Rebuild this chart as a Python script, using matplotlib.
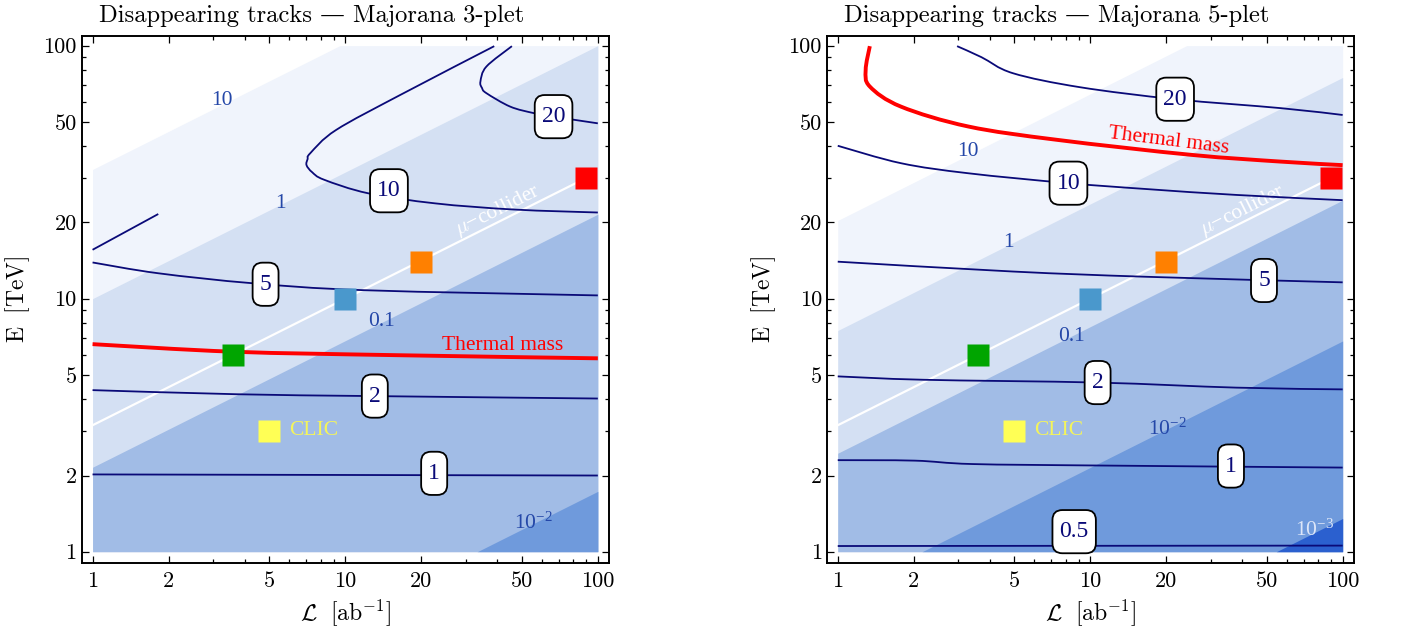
import numpy as np
import matplotlib
matplotlib.use('Agg')
import matplotlib.pyplot as plt
from matplotlib.ticker import NullFormatter
from matplotlib.path import Path
from matplotlib.patches import PathPatch, BoxStyle

plt.rcParams['mathtext.fontset'] = 'cm'

# ---------------- data ----------------
major_ticks = [1, 2, 5, 10, 20, 50, 100]
major_labels = ['1', '2', '5', '10', '20', '50', '100']
minor_ticks = [3, 4, 6, 7, 8, 9, 30, 40, 60, 70, 80, 90]

titles = ['Disappearing tracks \u2014 Majorana 3-plet',
          'Disappearing tracks \u2014 Majorana 5-plet']

# shaded bands: boundaries given as constant E^2/L (TeV^2 ab)
band_ratio_3 = [1050, 100, 4.65, 0.03]
band_ratio_5 = [415, 56, 6.0, 0.463, 0.0183]
band_colors = ['#F0F4FC', '#D4E0F3', '#A1BCE6', '#6F9ADC', '#2B60CF']
band_text_3 = ['10', '1', '0.1', r'$\mathregular{10^{-2}}$']
band_text_L_3 = [3.25, 5.56, 13.9, 55.8]
band_text_E_3 = [60.7, 23.8, 8.11, 1.30]
band_text_5 = ['10', '1', '0.1', r'$\mathregular{10^{-2}}$', r'$\mathregular{10^{-3}}$']
band_text_L_5 = [3.29, 4.74, 8.4, 20.2, 77.3]
band_text_E_5 = [38.1, 16.6, 7.08, 3.05, 1.22]
band_text_color_5 = ['#2447A8', '#2447A8', '#2447A8', '#2447A8', '#DDE6F8']

# contour curves, 3-plet
c3_1_L = [1, 10, 100];                 c3_1_E = [2.02, 2.01, 2.0]
c3_2_L = [1, 3.74, 13.1, 100];         c3_2_E = [4.35, 4.19, 4.12, 4.03]
c3_5_L = [1, 1.82, 4.32, 11.9, 100];   c3_5_E = [13.9, 12.6, 11.5, 10.8, 10.3]
c3_10_L = [38.9, 16.7, 9.2, 7.28, 7.1, 7.03, 7.4, 8.26, 12.3, 22.7, 46.6, 100]
c3_10_E = [99.5, 64.2, 46.4, 37.6, 35.6, 33.7, 31.6, 29.5, 26.1, 23.8, 22.5, 21.9]
c3_10b_L = [1.0, 1.82];                c3_10b_E = [15.6, 21.6]
c3_20_L = [45.7, 36.2, 34.3, 34.8, 36.2, 45, 55.8, 66.8, 100]
c3_20_E = [99.5, 82.6, 72.1, 68.0, 64.9, 57.4, 54.1, 52.4, 49.3]
thermal3_L = [1, 3.6, 15.8, 100];      thermal3_E = [6.61, 6.17, 5.98, 5.81]
box3_text = ['20', '10', '5', '2', '1']
box3_L = [66.8, 14.9, 4.84, 13.1, 22.5]
box3_E = [52.4, 26.7, 11.4, 4.12, 2.04]

# contour curves, 5-plet
c5_05_L = [1, 100];                        c5_05_E = [1.053, 1.057]
c5_1_L = [1, 2.02, 3.42, 11.2, 100];       c5_1_E = [2.30, 2.29, 2.22, 2.19, 2.15]
c5_2_L = [1, 2.19, 10.7, 37.9, 100];       c5_2_E = [4.93, 4.78, 4.66, 4.45, 4.38]
c5_5_L = [1, 4.94, 16.8, 100];             c5_5_E = [14.0, 12.8, 12.2, 11.6]
c5_10_L = [1, 1.78, 3.29, 8.2, 16.8, 37.9, 100]
c5_10_E = [40.2, 34.3, 31.3, 28.6, 27.1, 25.7, 24.5]
c5_20_L = [2.97, 3.71, 4.94, 9.1, 21.7, 57, 100]
c5_20_E = [99.5, 90, 77.8, 68.5, 61.4, 56.6, 53.2]
thermal5_L = [1.34, 1.29, 1.34, 1.78, 3.29, 7.43, 25.2, 57, 100]
thermal5_E = [99.5, 80.1, 68.9, 57.4, 47.9, 42.4, 37.0, 34.8, 33.7]
box5_text = ['20', '10', '5', '2', '1', '0.5']
box5_L = [21.7, 8.2, 48.8, 10.7, 36.1, 8.64]
box5_E = [61.4, 28.6, 11.8, 4.66, 2.18, 1.2]

# muon-collider line and benchmark points
mu_L = [1, 90]
mu_E = [3.16, 30]
mark_L = [90, 20, 10, 3.6]
mark_E = [30, 14, 10, 6]
mark_colors = ['#FF0000', '#FF8000', '#4A98CC', '#00A500']
clic_L = [5]
clic_E = [3]

# ---------------- figure ----------------
fig = plt.figure(figsize=(14.01, 6.35), dpi=100)
W, H = 1401.0, 635.0
ax3 = fig.add_axes([82.2 / W, 1 - 562.7 / H, 527 / W, 526.7 / H])
ax5 = fig.add_axes([827.4 / W, 1 - 562.7 / H, 526.6 / W, 526.7 / H])

NAVY = '#0A0A78'
SERIF = 'Liberation Serif'


def setup(ax, title):
    ax.set_xscale('log')
    ax.set_yscale('log')
    ax.set_xlim(10 ** -0.041, 10 ** 2.045)
    ax.set_ylim(10 ** -0.0435, 10 ** 2.038)
    ax.set_xticks(major_ticks)
    ax.set_xticklabels(major_labels, fontfamily='cmr10', fontsize=16)
    ax.set_yticks(major_ticks)
    ax.set_yticklabels(major_labels, fontfamily='cmr10', fontsize=16)
    ax.set_xticks(minor_ticks, minor=True)
    ax.set_yticks(minor_ticks, minor=True)
    ax.xaxis.set_minor_formatter(NullFormatter())
    ax.yaxis.set_minor_formatter(NullFormatter())
    ax.tick_params(which='both', direction='in', top=True, right=True, width=0.9, color='black')
    ax.tick_params(which='major', length=5, pad=4)
    ax.tick_params(axis='x', which='major', pad=6)
    ax.tick_params(which='minor', length=3)
    for s in ax.spines.values():
        s.set_linewidth(1.4)
    ax.set_title(title, x=0.4355, pad=10, fontsize=17.7, family=['cmr10', 'DejaVu Serif'])
    ax.set_xlabel(r'$\mathcal{L}\ \ [\mathrm{ab}^{-1}]$', fontsize=17)
    ax.set_ylabel(r'$\mathrm{E\ \ [TeV]}$', fontsize=17)
    ax.xaxis.set_label_coords(0.5, -0.0955)
    ax.yaxis.set_label_coords(-0.122, 0.5)
    ax.xaxis.label.set_va('center')
    ax.yaxis.label.set_va('center')
    ax.yaxis.label.set_ha('center')


def bands(ax, ratios):
    Lg = np.logspace(0, 2, 800)
    for r, col in zip(ratios, band_colors):
        top = np.clip(np.sqrt(r * Lg), 1, 100)
        ax.fill_between(Lg, 1, top, color=col, lw=0, zorder=1)


def curve(ax, L, E, color, lw, z=5):
    """Smooth curve through the read points (Catmull-Rom handles in log-log space)."""
    p = np.column_stack([np.log10(L), np.log10(E)])
    n = len(p)
    verts = [p[0]]
    codes = [Path.MOVETO]
    for i in range(n - 1):
        p0 = p[i - 1] if i > 0 else p[i]
        p1, p2 = p[i], p[i + 1]
        p3 = p[i + 2] if i + 2 < n else p[i + 1]
        verts += [p1 + (p2 - p0) / 6.0, p2 - (p3 - p1) / 6.0, p2]
        codes += [Path.CURVE4] * 3
    verts = 10 ** np.array(verts)
    ax.add_patch(PathPatch(Path(verts, codes), fill=False, ec=color, lw=lw, zorder=z,
                           capstyle='butt', joinstyle='round'))


_round = BoxStyle.Round(pad=0.3, rounding_size=0.42)


def tall_round(x0, y0, width, height, mutation_size):
    extra = 0.17 * mutation_size
    return _round(x0, y0 - extra, width, height + 2 * extra, mutation_size)


def box(ax, L, E, txt):
    t = ax.text(L, E, txt, ha='center', va='center', fontsize=17, family=SERIF, color=NAVY, zorder=6,
                bbox=dict(fc='white', ec='black', lw=1.3))
    t.get_bbox_patch().set_boxstyle(tall_round)


def markers(ax):
    ax.plot(mu_L, mu_E, color='white', lw=1.6, zorder=3)
    for L, E, c in zip(mark_L, mark_E, mark_colors):
        ax.plot([L], [E], 's', color=c, ms=16.5, mec='none', zorder=8)
    ax.plot(clic_L, clic_E, 's', color='#FFFF55', ms=16.5, mec='none', zorder=8)
    ax.text(6.0, 3.0, 'CLIC', color='#F4F45A', fontsize=15.5, family=SERIF, ha='left', va='center', zorder=8)
    ax.text(40, 22.4, r'$\mu$' + '\u2212collider', color='white', fontsize=15.5, family=SERIF,
            rotation=26.6, rotation_mode='anchor', ha='center', va='center', zorder=4)


# ---- 3-plet ----
setup(ax3, titles[0])
bands(ax3, band_ratio_3)
for t, L, E in zip(band_text_3, band_text_L_3, band_text_E_3):
    ax3.text(L, E, t, color='#2447A8', fontsize=15.5, family=SERIF, ha='center', va='center', zorder=2)
for Ls, Es in [(c3_1_L, c3_1_E), (c3_2_L, c3_2_E), (c3_5_L, c3_5_E), (c3_10_L, c3_10_E),
               (c3_10b_L, c3_10b_E), (c3_20_L, c3_20_E)]:
    curve(ax3, Ls, Es, NAVY, 1.3)
curve(ax3, thermal3_L, thermal3_E, '#FF0000', 2.8)
ax3.text(41.8, 6.5, 'Thermal mass', color='#FF0000', fontsize=15.5, family=SERIF, ha='center', va='center', zorder=6)
for t, L, E in zip(box3_text, box3_L, box3_E):
    box(ax3, L, E, t)
markers(ax3)

# ---- 5-plet ----
setup(ax5, titles[1])
bands(ax5, band_ratio_5)
for t, L, E, c in zip(band_text_5, band_text_L_5, band_text_E_5, band_text_color_5):
    ax5.text(L, E, t, color=c, fontsize=15.5, family=SERIF, ha='center', va='center', zorder=2)
for Ls, Es in [(c5_05_L, c5_05_E), (c5_1_L, c5_1_E), (c5_2_L, c5_2_E), (c5_5_L, c5_5_E),
               (c5_10_L, c5_10_E), (c5_20_L, c5_20_E)]:
    curve(ax5, Ls, Es, NAVY, 1.3)
curve(ax5, thermal5_L, thermal5_E, '#FF0000', 2.8)
ax5.text(20.4, 41.8, 'Thermal mass', color='#FF0000', fontsize=15.5, family=SERIF, rotation=-7.1,
         rotation_mode='anchor', ha='center', va='center', zorder=6)
for t, L, E in zip(box5_text, box5_L, box5_E):
    box(ax5, L, E, t)
markers(ax5)

fig.savefig('out.png', dpi=100)
